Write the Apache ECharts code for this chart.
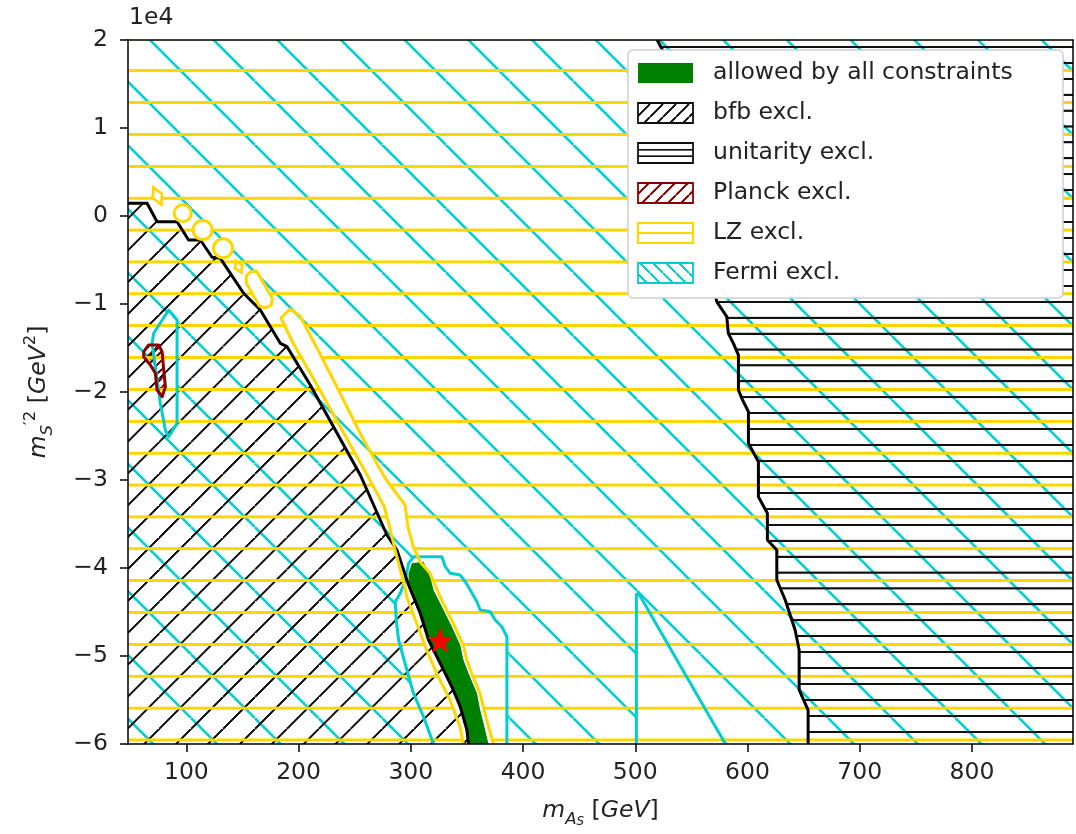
<!DOCTYPE html>
<html><head><meta charset="utf-8">
<script src="https://cdn.jsdelivr.net/npm/echarts@6/dist/echarts.min.js"></script>
<style>html,body{margin:0;padding:0;background:#fff}#c{width:1076px;height:834px}</style>
</head><body><div id="c"></div>
<script>
// ---------- axes ----------
const xRange = [48, 890];
const yRange = [-60000, 20000];
const xTicks = [100, 200, 300, 400, 500, 600, 700, 800];
const yTicks = [-60000, -50000, -40000, -30000, -20000, -10000, 0, 10000, 20000];
const legendLabels = ['allowed by all constraints', 'bfb excl.', 'unitarity excl.', 'Planck excl.', 'LZ excl.', 'Fermi excl.'];

// ---------- regions, data coords [m_As (GeV), m'_S^2 (GeV^2)] ----------
// Fermi-allowed pockets (no Fermi hatch inside)
const fermiHoleA = [[320.2,-60000],[311.3,-56900],[302.4,-54240],[296.5,-51590],[289.1,-48180],[287,-45910],[286.1,-43830],[290.6,-42880],[295,-41360],[298,-39470],[302.4,-38720],[327.7,-38720],[330.7,-39850],[335.1,-40600],[344,-40800],[348.5,-41560],[352.9,-42500],[358.9,-43830],[361.8,-44770],[370.7,-44970],[375.2,-45910],[381.1,-46670],[385.6,-47810],[385.6,-60000]];
const fermiHoleB = [[501,-60000],[501,-43000],[503.5,-43000],[580.3,-60000]];
const fermiHoleC = [[84.2,-10680],[91.7,-11820],[91.7,-23560],[84.2,-25080],[81.3,-24320],[76.8,-21280],[69.5,-14470],[70.9,-13330]];
// bfb boundary (left edge -> bottom)
const bfbEdge = [[48,1440],[65,1440],[73.9,-650],[91.7,-650],[102,-2730],[112.5,-2730],[122.9,-4690],[130.3,-4810],[151,-8780],[165.9,-10680],[183.7,-14470],[189.7,-14850],[210.4,-19200],[232.7,-24320],[255,-29430],[278.7,-36250],[287.6,-37950],[298,-41930],[308.4,-45110],[315.8,-48180],[326.2,-50830],[336.6,-53490],[344,-55760],[350,-58410],[351.4,-60000]];
// unitarity boundary (top -> bottom)
const unitEdge = [[519.5,20000],[526.6,18300],[572.6,-9740],[581.5,-11440],[582.9,-13330],[587.4,-14470],[591.9,-15800],[591.9,-19770],[594.9,-20720],[600.8,-22240],[600.8,-25830],[609.7,-27920],[609.7,-31900],[617.7,-33780],[617.7,-36820],[626.1,-37950],[626.1,-41360],[633.6,-43640],[638,-45340],[642.4,-47050],[646,-49320],[646,-53860],[654,-56140],[654,-60000]];
// Planck excluded island
const planck = [[62,-15420],[66.4,-14660],[75.3,-14660],[78.4,-15420],[79.8,-17500],[81.3,-19400],[78.4,-20530],[73.9,-19770],[72.4,-17880],[67.9,-16930],[62,-15990]];
// LZ-allowed strip: right edge (top -> bottom), left edge (bottom -> top)
const lzStripRight = [[192.3,-10568],[201.3,-11364],[217.3,-15227],[236.9,-20114],[256.5,-25114],[277,-29773],[294.8,-32841],[297.5,-35341],[302.2,-37580],[308.2,-39284],[317.1,-40602],[321.5,-41932],[328.9,-44011],[337.8,-46284],[346.8,-48750],[349.8,-50455],[354.2,-51966],[361.6,-54239],[364.6,-55761],[367.6,-57273],[373.5,-60000]];
const lzStripLeft = [[346.8,-60000],[343.8,-58034],[334.9,-55000],[323.1,-51966],[314.1,-49318],[305.2,-46284],[296.3,-43261],[294.8,-42159],[285.9,-37955],[281.4,-35455],[276.1,-32955],[260.1,-29205],[237.8,-24091],[215.5,-18977],[195,-14432],[184.3,-11591]];
// LZ-allowed small islands
const lzIslandsRound = [[96.7,310],[114.5,-1590],[132.7,-3670]];
const lzIslandsDiamond = [[74.2,2270],[146.6,-5760]];
const lzIslandCapsule = [[157,-6360],[162.3,-6250],[176.6,-9320],[175.7,-10110],[170.4,-10450],[165,-10230],[153.4,-7610],[153.4,-6820]];
// allowed by all constraints
const allowed = [[298,-40600],[298,-42120],[306.9,-45150],[314.4,-47810],[326.2,-50830],[335.1,-53490],[344,-55760],[348.5,-58030],[351.4,-60000],[369.2,-60000],[364.8,-57650],[361.8,-56140],[358.9,-54240],[351.4,-51970],[346.9,-50450],[344,-48750],[336.6,-46670],[327.7,-44390],[320.2,-42500],[317.3,-40990],[311.3,-39280],[301,-39470]];
// benchmark point
const benchmark = [[326.2,-48180]];

// ---------- styles ----------
const C_GOLD = '#FFD700', C_CYAN = '#00CED1', C_RED = '#8B0000', C_GREEN = '#008000', C_TXT = '#222';
const FONT = 'DejaVu Sans';
const LW_EDGE = 3;

function hatch(kind, spacing, color, lw, ref) {
  const N = 96;
  const c = document.createElement('canvas'); c.width = N; c.height = N;
  const g = c.getContext('2d');
  const s = spacing / N;
  g.strokeStyle = color; g.lineWidth = lw / s; g.lineCap = 'butt';
  g.beginPath();
  if (kind === 'h') { g.moveTo(-N, N / 2); g.lineTo(2 * N, N / 2); }
  else if (kind === 'ne') { for (let k = -1; k <= 1; k++) { g.moveTo(k * N, N); g.lineTo(k * N + N, 0); } }
  else { for (let k = -1; k <= 1; k++) { g.moveTo(k * N, 0); g.lineTo(k * N + N, N); } }
  g.stroke();
  const y = kind === 'h' ? ref - spacing / 2 : ref;
  return { image: c, repeat: 'repeat', x: 0, y: y, scaleX: s, scaleY: s };
}

const P_CYAN = hatch('se', 63.7, C_CYAN, 2.6, -110);
const P_BFB = hatch('ne', 31.87, '#111', 2.0, 378.3);
const P_UNIT = hatch('h', 15.93, '#111', 2.1, 78.7);
const P_GOLD = hatch('h', 31.87, C_GOLD, 3.0, 70.7);
const P_PLANCK = hatch('ne', 9, C_RED, 1.6, 0);

const X0 = xRange[0], X1 = xRange[1], Y0 = yRange[0], Y1 = yRange[1];
const frame = [[X0, Y1], [X1, Y1], [X1, Y0], [X0, Y0]];
const capY = lzStripRight[0][1];
const lzLeftPoly = [[X0, capY], lzStripRight[0]].concat(lzStripLeft.slice().reverse(), [[X0, Y0]]);
const lzRightPoly = [[X0, Y1], [X1, Y1], [X1, Y0]].concat(lzStripRight.slice().reverse(), [[X0, capY]]);
const bfbPoly = bfbEdge.concat([[X0, Y0]]);
const unitPoly = unitEdge.concat([[X1, Y0], [X1, Y1]]);
const lzOutline = lzStripLeft.concat(lzStripRight);

function shape(name, pts, style, z, type) {
  return {
    type: 'custom', name: name, coordinateSystem: 'cartesian2d', silent: true, animation: false,
    z: z, clip: true, data: [[X0, Y0]],
    renderItem: function (params, api) {
      return { type: type || 'polygon', silent: true,
        shape: { points: pts.map(function (p) { return api.coord(p); }) }, style: style };
    }
  };
}
function line(name, pts, color, lw, z, closed) {
  return shape(name, pts, { fill: 'none', stroke: color, lineWidth: lw, lineJoin: 'round' }, z, closed ? 'polygon' : 'polyline');
}

const series = [
  shape('Fermi excl.', frame, { fill: P_CYAN, stroke: 'none' }, 2),
  shape('Fermi hole A', fermiHoleA, { fill: '#fff', stroke: 'none' }, 3),
  shape('Fermi hole B', fermiHoleB, { fill: '#fff', stroke: 'none' }, 3),
  shape('Fermi hole C', fermiHoleC, { fill: '#fff', stroke: 'none' }, 3),
  shape('bfb excl.', bfbPoly, { fill: P_BFB, stroke: 'none' }, 4),
  shape('unitarity excl.', unitPoly, { fill: P_UNIT, stroke: 'none' }, 4),
  shape('Planck excl.', planck, { fill: P_PLANCK, stroke: 'none' }, 4),
  shape('LZ excl. (left)', lzLeftPoly, { fill: P_GOLD, stroke: 'none' }, 5),
  shape('LZ excl. (right)', lzRightPoly, { fill: P_GOLD, stroke: 'none' }, 5),
  shape('allowed by all constraints', allowed, { fill: C_GREEN, stroke: 'none' }, 6),
  line('Fermi edge A', fermiHoleA, C_CYAN, LW_EDGE, 7),
  line('Fermi edge B', fermiHoleB, C_CYAN, LW_EDGE, 7),
  line('Fermi edge C', fermiHoleC, C_CYAN, LW_EDGE, 7, true),
  line('bfb edge', bfbEdge, '#000', LW_EDGE, 7),
  line('unitarity edge', unitEdge, '#000', LW_EDGE, 7),
  line('Planck edge', planck, C_RED, LW_EDGE, 7, true),
  line('LZ edge', lzOutline, C_GOLD, LW_EDGE, 7),
  shape('LZ island capsule', lzIslandCapsule, { fill: '#fff', stroke: C_GOLD, lineWidth: LW_EDGE }, 8),
  { type: 'scatter', name: 'LZ islands', data: lzIslandsRound, symbol: 'circle',
    symbolSize: function (v, p) { return [17, 19, 19][p.dataIndex]; },
    itemStyle: { color: '#fff', borderColor: C_GOLD, borderWidth: LW_EDGE, opacity: 1 }, z: 8, silent: true, animation: false },
  { type: 'scatter', name: 'LZ islands 2', data: lzIslandsDiamond, symbol: 'diamond',
    symbolSize: function (v, p) { return [[10, 19], [8, 13]][p.dataIndex]; },
    symbolRotate: 25,
    itemStyle: { color: '#fff', borderColor: C_GOLD, borderWidth: LW_EDGE, opacity: 1 }, z: 8, silent: true, animation: false },
  { type: 'scatter', name: 'benchmark', data: benchmark,
    symbol: 'path://M0,-10L2.35,-3.24L9.51,-3.09L3.8,1.24L5.88,8.09L0,4L-5.88,8.09L-3.8,1.24L-9.51,-3.09L-2.35,-3.24Z',
    symbolSize: 26, itemStyle: { color: '#ff0000', opacity: 1 }, z: 9, silent: true, animation: false }
];

// ---------- legend (drawn as graphic) ----------
const LG = { x: 628, y: 50, w: 435, h: 248, sx: 638, sw: 55, sh: 20, row0: 73, dy: 40, tx: 713 };
const swatchStyles = [
  { fill: C_GREEN, stroke: C_GREEN, lineWidth: 0 },
  { fill: hatch('ne', 13, '#111', 1.6, 0), stroke: '#111', lineWidth: 1.8 },
  { fill: hatch('h', 20 / 3, '#111', 1.7, LG.row0 + 2 * LG.dy - 10), stroke: '#111', lineWidth: 1.8 },
  { fill: hatch('ne', 13, C_RED, 1.6, 0), stroke: C_RED, lineWidth: 1.8 },
  { fill: hatch('h', 10, C_GOLD, 2.2, LG.row0 + 4 * LG.dy - 10), stroke: C_GOLD, lineWidth: 2.2 },
  { fill: hatch('se', 13, C_CYAN, 1.6, 0), stroke: C_CYAN, lineWidth: 1.8 }
];
const graphic = [{ type: 'rect', z: 100, silent: true,
  shape: { x: LG.x, y: LG.y, width: LG.w, height: LG.h, r: 5 },
  style: { fill: '#fff', stroke: '#cfcfcf', lineWidth: 1.5 } }];
legendLabels.forEach(function (t, i) {
  const cy = LG.row0 + i * LG.dy;
  graphic.push({ type: 'rect', z: 101, silent: true,
    shape: { x: LG.sx, y: cy - LG.sh / 2, width: LG.sw, height: LG.sh }, style: swatchStyles[i] });
  graphic.push({ type: 'text', z: 101, silent: true,
    style: { text: t, x: LG.tx, y: cy, fill: C_TXT, fontSize: 23.5, fontFamily: FONT, verticalAlign: 'middle', align: 'left' } });
});
graphic.push({ type: 'text', z: 101, silent: true,
  style: { text: '1e4', x: 129, y: 6, fill: C_TXT, fontSize: 23.5, fontFamily: FONT, verticalAlign: 'top', align: 'left' } });

const richName = {
  i: { fontFamily: FONT, fontStyle: 'italic', fontSize: 23.5, color: C_TXT, lineHeight: 34 },
  n: { fontFamily: FONT, fontSize: 23.5, color: C_TXT, lineHeight: 34 },
  s: { fontFamily: FONT, fontStyle: 'italic', fontSize: 16.5, color: C_TXT, lineHeight: 14, verticalAlign: 'bottom' },
  ss: { fontFamily: FONT, fontStyle: 'italic', fontSize: 12, color: C_TXT, lineHeight: 8, verticalAlign: 'bottom' },
  sup: { fontFamily: FONT, fontSize: 16.5, color: C_TXT, lineHeight: 16, verticalAlign: 'top' }
};
const minus = function (v) { const k = Math.round(v / 10000); return k < 0 ? '\u2212' + (-k) : String(k); };
const axisLineStyle = { color: '#000', width: 1.5 };

const option = {
  animation: false,
  backgroundColor: '#fff',
  grid: { left: 128, right: 3, top: 40, bottom: 90, containLabel: false },
  xAxis: [{
    type: 'value', min: X0, max: X1, position: 'bottom', z: 10,
    axisLine: { show: true, onZero: false, lineStyle: axisLineStyle },
    axisTick: { show: true, length: 8, customValues: xTicks, lineStyle: axisLineStyle },
    axisLabel: { customValues: xTicks, fontSize: 23.5, fontFamily: FONT, color: C_TXT, margin: 17 },
    splitLine: { show: false },
    name: '{i|m}{s|A}{ss|S}{n| [}{i|GeV}{n|]}', nameLocation: 'middle', nameGap: 50,
    nameTextStyle: { rich: richName }
  }, {
    type: 'value', min: X0, max: X1, position: 'top', z: 10,
    axisLine: { show: true, onZero: false, lineStyle: axisLineStyle },
    axisTick: { show: false }, axisLabel: { show: false }, splitLine: { show: false }
  }],
  yAxis: [{
    type: 'value', min: Y0, max: Y1, interval: 10000, position: 'left', z: 10,
    axisLine: { show: true, onZero: false, lineStyle: axisLineStyle },
    axisTick: { show: true, length: 8, customValues: yTicks, lineStyle: axisLineStyle },
    axisLabel: { customValues: yTicks, formatter: minus, fontSize: 23.5, fontFamily: FONT, color: C_TXT, margin: 20 },
    splitLine: { show: false },
    name: '{i|m}{s|S}{sup|\u20322}{n| [}{i|GeV}{sup|2}{n|]}', nameLocation: 'middle', nameRotate: 90, nameGap: 72,
    nameTextStyle: { rich: richName }
  }, {
    type: 'value', min: Y0, max: Y1, position: 'right', z: 10,
    axisLine: { show: true, onZero: false, lineStyle: axisLineStyle },
    axisTick: { show: false }, axisLabel: { show: false }, splitLine: { show: false }
  }],
  graphic: graphic,
  series: series
};

const chart = echarts.init(document.getElementById('c'), null, { renderer: 'canvas' });
chart.setOption(option);
</script>
</body></html>
